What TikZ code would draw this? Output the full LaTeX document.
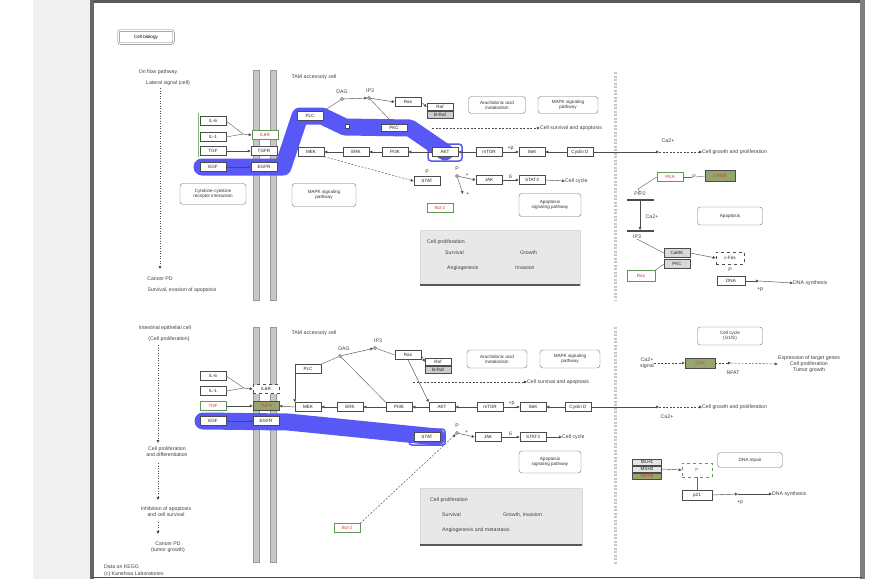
\documentclass[tikz,border=0pt]{standalone}
\usepackage{fontspec}
\setmainfont{Liberation Sans}
\usetikzlibrary{arrows.meta}
\definecolor{hlblue}{RGB}{88,88,246}
\definecolor{kgreen}{RGB}{120,190,110}
\definecolor{kred}{RGB}{225,60,40}
\definecolor{kolive}{RGB}{150,165,110}
\newcommand{\ft}{\fontsize{4.6}{5.2}\selectfont}
\newcommand{\fl}{\fontsize{5.2}{6}\selectfont}
\tikzset{
 gbox/.style={draw=black!70, fill=white, minimum width=26pt, minimum height=9pt, inner sep=0pt, font=\ft, text=black!85, line width=0.5pt},
 rg/.style={gbox, text=kred, draw=kgreen!80!black},
 og/.style={gbox, fill=kolive, text=kred},
 rbox/.style={draw=black!55, rounded corners=3pt, fill=white, align=center, font=\ft, inner sep=2pt, text=black!80},
 lbl/.style={font=\fl, align=center, inner sep=0pt, text=black!75},
 arr/.style={-{Latex[length=3pt,width=3pt]}, draw=black!70, line width=0.45pt},
 darr/.style={arr, dash pattern=on 2pt off 1.5pt},
 dotl/.style={arr, dash pattern=on 1pt off 1.5pt},
 ln/.style={draw=black!60, line width=0.45pt},
 hl/.style={line width=17pt, draw=hlblue, line cap=round, line join=round},
 memb/.style={fill=black!22, draw=black!40, line width=0.5pt},
 sepl/.style={draw=black!22, line width=3pt, dash pattern=on 2pt off 1.5pt},
 mol/.style={circle, draw=black!70, fill=white, minimum size=3pt, inner sep=0pt},
 legbox/.style={fill=black!9, draw=black!15},
 bar/.style={draw=black!70, fill=black!70, minimum width=26pt, minimum height=1.2pt, inner sep=0pt},
 titlebox/.style={draw=black!60, double=white, double distance=1.2pt, rounded corners=2pt, minimum width=55pt, minimum height=13pt, font=\ft, inner sep=1pt},
}
\begin{document}
\begin{tikzpicture}[x=1pt,y=-1pt]
\useasboundingbox (0,0) rectangle (870,579);
% page background and panel
\fill[white] (0,0) rectangle (870,579);
\fill[black!6] (33,0) rectangle (92,579);
\draw[black!65, line width=3pt] (91,1.5) -- (864,1.5);
\draw[black!60, line width=4pt] (92,0) -- (92,579);
\draw[black!50, line width=5pt] (862,0) -- (862,579);
\draw[black!70, line width=1.5pt] (92,577.5) -- (862,577.5);

% ================= TOP PANEL =================
\node[titlebox] (title) at (146,37) {Cell biology};
\node[lbl] (tA) at (158,72) {On flow pathway};
\node[lbl] (tA2) at (168,83) {Lateral signal (cell)};
\coordinate (tEnd) at (160,269);
\draw[dotl] (160,88) -- (tEnd);
\node[lbl] (tD1) at (160,279) {Cancer PD};
\node[lbl] (tD2) at (182,290) {Survival, evasion of apoptosis};

% membrane
\draw[memb] (253,70) rectangle (259,300);
\draw[memb] (270,70) rectangle (276,300);
\node[lbl] (tCell) at (314,77) {TAM accessory cell};

% highlight
\draw[hl] (202,167) -- (283,167) -- (300,116) -- (322,116) -- (345,127) -- (410,128) -- (445,152);

% separator
\draw[sepl] (615,72) -- (615,300);

% left ligands
\draw[kgreen, line width=0.5pt] (198,113) -- (198,157);
\node[gbox] (tL1) at (213,121) {IL-6};
\node[gbox] (tL2) at (213,137) {IL-1};
\node[gbox] (tL3) at (213,151) {TGF};
\node[gbox] (tL4) at (213,167) {EGF};
\node[rg] (tM1) at (265,135) {IL6R};
\node[gbox] (tM2) at (264,151) {TGFR};
\node[gbox] (tM3) at (264,167) {EGFR};
\coordinate (tJ) at (243,134);
\draw[ln] (tL1.east) -- (tJ);
\draw[ln] (tL2.east) -- (tJ);
\draw[arr] (tJ) -- (tM1.west);
\draw[arr] (tL3.east) -- (tM2.west);
\draw[arr] (tL4.east) -- (tM3.west);

% upper row
\node[gbox] (tH1) at (310,116) {PLC};
\node[gbox, minimum height=7pt] (tH2) at (394,128) {PKC};
\node[mol] (tm1) at (342,99) {};
\node[lbl] (tm1l) at (342,92) {DAG};
\node[mol] (tm2) at (369,98) {};
\node[lbl] (tm2l) at (370,91) {IP3};
\node[draw=black!70, fill=white, minimum size=4pt, inner sep=0pt] (tsq) at (347,126) {};
\node[gbox] (tU1) at (408,102) {Ras};
\node[gbox, minimum height=7pt] (tU2a) at (440,107) {Raf};
\node[gbox, minimum height=7pt, fill=black!20] (tU2b) at (440,115) {B-Raf};
\node[rbox, minimum width=57pt, minimum height=17pt] (tU3) at (497,105) {Arachidonic acid\\metabolism};
\node[rbox, minimum width=60pt, minimum height=17pt] (tU4) at (568,105) {MAPK signaling\\pathway};
\draw[ln] (tH1.north east) -- (tm1);
\draw[arr] (tm1) -- (tm2);
\draw[ln] (tm2) -- (tH2.north);
\draw[arr] (tm2) -- (tU1.west);
\draw[arr] (tU1.east) -- (tU2a.west);

% dashed arrow to survival
\node[lbl] (tS1) at (571,128) {Cell survival and apoptosis};
\draw[darr] (432,128) -- (tS1.west);

% main row
\node[gbox] (tR1) at (311,152) {MEK};
\node[gbox] (tR2) at (356,152) {ERK};
\node[gbox] (tR3) at (395,152) {PI3K};
\node[gbox] (tR4) at (445,152) {AKT};
\draw[hlblue, line width=1.5pt, rounded corners=3pt] (428,144) rectangle (462,161);
\node[gbox] (tR5) at (489,152) {mTOR};
\node[gbox] (tR6) at (532,152) {S6K};
\node[gbox] (tR7) at (580,152) {Cyclin D};
\draw[arr] (tR2.west) -- (tR1.east);
\draw[arr] (tR3.west) -- (tR2.east);
\draw[arr] (tR4.west) -- (tR3.east);
\draw[arr] (tR5.west) -- (tR4.east);
\draw[arr] (tR5.east) -- node[lbl, above=1pt] {+p} (tR6.west);
\draw[arr] (tR7.west) -- (tR6.east);
\coordinate (tP) at (659,152);
\node[lbl] (tCa) at (668,141) {Ca2+};
\node[lbl, anchor=west] (tOut) at (702,152) {Cell growth and proliferation};
\draw[arr] (tR7.east) -- (tP);
\draw[darr] (tP) -- (tOut.west);

% lower row
\node[gbox] (tB1) at (427,181) {STAT};
\node[lbl] (tB1l) at (427,172) {P};
\node[mol] (tB2) at (457,176) {};
\node[lbl] (tB2l) at (457,169) {P};
\node[gbox] (tB3) at (489,180) {JAK};
\node[gbox] (tB4) at (532,180) {STAT3};
\node[lbl, anchor=west] (tS2) at (565,181) {Cell cycle};
\draw[darr] (tR1.south east) -- (tB1.west);
\draw[arr] (tB2) -- node[lbl, above=1pt] {+} (tB3.west);
\draw[arr] (tB3.east) -- node[lbl, above=1pt] {6} (tB4.west);
\draw[arr] (tB4.east) -- (tS2.west);
\coordinate (tPlus) at (463,194);
\draw[arr] (tB2) -- (tPlus);
\node[lbl] (tPl) at (468,194) {+};
\node[rg] (tRed) at (440,208) {Bcl-2};
\node[rbox, minimum width=62pt, minimum height=23pt] (tRB) at (550,205) {Apoptosis\\signaling pathway};
\node[rbox, minimum width=66pt, minimum height=21pt] (tLR1) at (213,194) {Cytokine-cytokine\\receptor interaction};
\node[rbox, minimum width=64pt, minimum height=23pt] (tLR2) at (324,195) {MAPK signaling\\pathway};

% legend
\draw[legbox] (420,230) rectangle (580,285);
\draw[black!65, line width=1.2pt] (420,285) -- (580,285);
\node[lbl, anchor=west] (tLg1) at (427,242) {Cell proliferation};
\node[lbl, anchor=west] (tLg2) at (445,253) {Survival};
\node[lbl, anchor=west] (tLg3) at (520,253) {Growth};
\node[lbl, anchor=west] (tLg4) at (447,268) {Angiogenesis};
\node[lbl, anchor=west] (tLg5) at (515,268) {Invasion};

% right top
\node[rg] (tRR1) at (670,177) {PKA};
\node[lbl] (tRlink) at (694,177) {P};
\node[og, minimum width=30pt, minimum height=11pt] (tRR2) at (720,176) {CREB};
\draw[ln] (tRR1.east) -- (tRlink.west);
\draw[ln] (tRlink.east) -- (tRR2.west);
\coordinate (tRc1) at (638,189);
\draw[ln] (tRR1.west) -- (tRc1);
\node[lbl] (tBar1l) at (640,194) {PIP2};
\node[bar] (tBar1) at (640,200) {};
\node[bar] (tBar2) at (640,231) {};
\node[lbl] (tBar2l) at (637,237) {IP3};
\draw[ln] (tRc1) -- (tBar1l.north);
\draw[arr] (tBar1.south) -- (tBar2.north);
\node[lbl] (tCa2) at (652,217) {Ca2+};
\node[rbox, minimum width=65pt, minimum height=18pt] (tRB2) at (730,216) {Apoptosis};
\node[gbox, fill=black!15] (tRS1) at (677,253) {CaMK};
\node[gbox, fill=black!15] (tRS2) at (677,264) {PKC};
\draw[ln] (tBar2l.south) -- (tRS1.west);
\node[gbox, minimum width=28pt, minimum height=12pt, dashed] (tRB3) at (730,258) {c-Fos};
\node[lbl] (tRB3l) at (730,270) {P};
\draw[arr] (tRS1.east) -- (tRB3.west);
\node[rg, minimum width=28pt, minimum height=11pt] (tRR3) at (641,276) {Ras};
\draw[ln] (tRR3.north east) -- (tRS2.west);
\node[gbox, minimum width=28pt] (tRB4) at (731,281) {DNA};
\coordinate (tRq) at (759,281);
\node[lbl] (tRql) at (760,290) {+p};
\node[lbl, anchor=west] (tRS3) at (793,283) {DNA synthesis};
\draw[arr] (tRB4.east) -- (tRq);
\draw[arr] (tRq) -- (tRS3.west);

% ================= BOTTOM PANEL =================
\node[lbl] (bB1) at (165,328) {Intestinal epithelial cell};
\node[lbl] (bB2) at (169,339) {(Cell proliferation)};
\coordinate (bE1) at (158,443);
\draw[dotl] (158,345) -- (bE1);
\node[lbl] (bD1) at (167,452) {Cell proliferation\\and differentiation};
\coordinate (bE2) at (158,500);
\draw[dotl] (158,463) -- (bE2);
\node[lbl] (bD2) at (166,512) {Inhibition of apoptosis\\and cell survival};
\coordinate (bE3) at (158,534);
\draw[dotl] (158,522) -- (bE3);
\node[lbl] (bD3) at (168,547) {Cancer PD\\(tumor growth)};

\draw[memb] (253,327) rectangle (259,562);
\draw[memb] (270,327) rectangle (276,562);
\node[lbl] (bCell) at (314,333) {TAM accessory cell};

\draw[hl] (203,421) -- (288,422) -- (437,437);
\draw[sepl] (615,327) -- (615,565);

\node[gbox] (bL1) at (213,376) {IL-6};
\node[gbox] (bL2) at (213,391) {IL-1};
\node[rg] (bL3) at (213,406) {TNF};
\node[gbox] (bL4) at (213,421) {EGF};
\node[gbox, dashed] (bM1) at (266,389) {IL6R};
\node[og] (bM2) at (266,406) {TNFR};
\node[gbox] (bM3) at (266,421) {EGFR};
\coordinate (bJ) at (244,388);
\draw[ln] (bL1.east) -- (bJ);
\draw[ln] (bL2.east) -- (bJ);
\draw[arr] (bJ) -- (bM1.west);
\draw[arr] (bL3.east) -- (bM2.west);
\draw[arr] (bL4.east) -- (bM3.west);

\node[gbox] (bU0) at (308,369) {PLC};
\node[mol] (bm1) at (340,356) {};
\node[lbl] (bm1l) at (344,349) {DAG};
\node[mol] (bm2) at (375,348) {};
\node[lbl] (bm2l) at (378,341) {IP3};
\node[gbox] (bU1) at (408,355) {Ras};
\node[gbox, minimum height=7pt] (bU2a) at (438,362) {Raf};
\node[gbox, minimum height=7pt, fill=black!20] (bU2b) at (438,370) {B-Raf};
\node[rbox, minimum width=60pt, minimum height=18pt] (bU3) at (497,359) {Arachidonic acid\\metabolism};
\node[rbox, minimum width=60pt, minimum height=18pt] (bU4) at (570,359) {MAPK signaling\\pathway};

\node[gbox] (bR1) at (308,407) {MEK};
\node[gbox] (bR2) at (350,407) {ERK};
\node[gbox] (bR3) at (399,407) {PI3K};
\node[gbox] (bR4) at (442,407) {AKT};
\node[gbox] (bR5) at (490,407) {mTOR};
\node[gbox] (bR6) at (533,407) {S6K};
\node[gbox] (bR7) at (578,407) {Cyclin D};
\draw[arr] (bR1.west) -- (bM2.east);
\draw[arr] (bR2.west) -- (bR1.east);
\draw[arr] (bR3.west) -- (bR2.east);
\draw[arr] (bR4.west) -- (bR3.east);
\draw[arr] (bR5.west) -- (bR4.east);
\draw[arr] (bR5.east) -- node[lbl, above=1pt] {+p} (bR6.west);
\draw[arr] (bR7.west) -- (bR6.east);
\coordinate (bP) at (659,407);
\node[lbl] (bCa) at (667,417) {Ca2+};
\node[lbl, anchor=west] (bOut) at (702,407) {Cell growth and proliferation};
\draw[arr] (bR7.east) -- (bP);
\draw[darr] (bP) -- (bOut.west);

\draw[arr] (bU0.south west) -- (bR1.north west);
\draw[ln] (bU0.north east) -- (bm1);
\draw[arr] (bm1) -- (bm2);
\draw[ln] (bm1) -- (bR3.north west);
\draw[ln] (bm2) -- (bU1.west);
\draw[arr] (bU1.south) -- (bR4.north west);
\draw[arr] (bU1.east) -- (bU2a.west);
\node[lbl, anchor=west] (bS1) at (527,382) {Cell survival and apoptosis};
\draw[darr] (413,382) -- (bS1.west);

\node[gbox] (bR8) at (427,437) {STAT};
\draw[hlblue, line width=1.5pt, rounded corners=3pt] (409,429) rectangle (445,445);
\node[mol] (bm3) at (457,433) {};
\node[lbl] (bm3l) at (457,426) {P};
\node[gbox] (bR9) at (488,437) {JAK};
\node[gbox] (bR10) at (533,437) {STAT3};
\node[lbl, anchor=west] (bS2) at (562,437) {Cell cycle};
\draw[arr] (bm3) -- node[lbl, above=1pt] {+} (bR9.west);
\draw[arr] (bR9.east) -- node[lbl, above=1pt] {6} (bR10.west);
\draw[arr] (bR10.east) -- (bS2.west);
\node[rbox, minimum width=62pt, minimum height=22pt] (bRB) at (550,462) {Apoptosis\\signaling pathway};
\node[rg] (bRed) at (347,528) {Bcl-2};
\draw[darr] (bRed.north east) -- (bm3);

\draw[legbox] (420,488) rectangle (582,545);
\draw[black!65, line width=1.2pt] (420,545) -- (582,545);
\node[lbl, anchor=west] (bLg1) at (430,500) {Cell proliferation};
\node[lbl, anchor=west] (bLg2) at (442,515) {Survival};
\node[lbl, anchor=west] (bLg3) at (503,515) {Growth, invasion};
\node[lbl, anchor=west] (bLg4) at (442,530) {Angiogenesis and metastasis};

% right bottom
\node[rbox, minimum width=65pt, minimum height=18pt] (bRB2) at (730,336) {Cell cycle\\(G1/S)};
\node[lbl] (bCa1) at (647,363) {Ca2+\\signal};
\node[og, minimum width=30pt, minimum height=10pt] (bRG) at (700,363) {CaN};
\coordinate (bQ) at (731,363);
\node[lbl] (bQl) at (733,373) {NFAT};
\node[lbl] (bS3) at (809,364) {Expression of target genes\\Cell proliferation\\Tumor growth};
\draw[darr] (bCa1.east) -- (bRG.west);
\draw[darr] (bRG.east) -- (bQ);
\draw[darr] (bQ) -- (bS3.west);
\node[rbox, minimum width=65pt, minimum height=15pt] (bRB3) at (750,460) {DNA repair};
\node[gbox, minimum width=29pt, minimum height=6pt, fill=black!10] (bRS1) at (647,462) {MLH1};
\node[gbox, minimum width=29pt, minimum height=6pt, fill=black!10] (bRS2) at (647,469) {MSH2};
\node[og, minimum width=29pt, minimum height=6pt] (bRS3) at (647,476) {MSH6};
\node[gbox, minimum width=30pt, minimum height=14pt, draw=kgreen!80!black, dashed, text=kred] (bRP) at (697,470) {P};
\draw[arr] (bRS2.east) -- (bRP.west);
\node[gbox, minimum width=30pt, minimum height=10pt] (bRB4) at (697,495) {p21};
\draw[ln] (bRP.south) -- (bRB4.north);
\coordinate (bRq) at (738,494);
\node[lbl] (bRql) at (740,503) {+p};
\node[lbl, anchor=west] (bS4) at (772,494) {DNA synthesis};
\draw[arr] (bRB4.east) -- (bRq);
\draw[arr] (bRq) -- (bS4.west);

% footer
\node[lbl, anchor=west] (foot1) at (104,567) {Data on KEGG};
\node[lbl, anchor=west] (foot2) at (104,574) {(c) Kanehisa Laboratories};
\end{tikzpicture}
\end{document}
